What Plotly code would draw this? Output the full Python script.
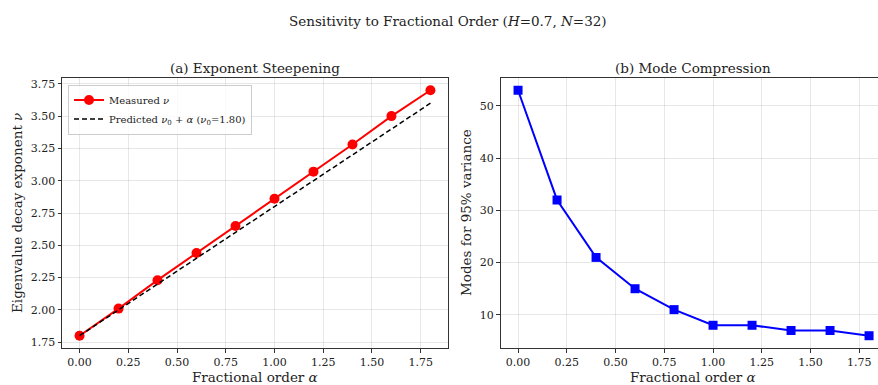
import plotly.graph_objects as go

alpha = [0.0, 0.2, 0.4, 0.6, 0.8, 1.0, 1.2, 1.4, 1.6, 1.8]
nu_measured = [1.80, 2.01, 2.23, 2.44, 2.65, 2.86, 3.07, 3.28, 3.50, 3.70]
nu0 = 1.80
nu_predicted = [nu0 + a for a in alpha]
modes_95 = [53, 32, 21, 15, 11, 8, 8, 7, 7, 6]

x_ticks = [0, 0.25, 0.5, 0.75, 1.0, 1.25, 1.5, 1.75]
y1_ticks = [1.75, 2.0, 2.25, 2.5, 2.75, 3.0, 3.25, 3.5, 3.75]
y2_ticks = [10, 20, 30, 40, 50]

W, H = 878, 385
SERIF = "DejaVu Serif"
TXT = "#222222"

fig = go.Figure()
fig.add_trace(go.Scatter(
    x=alpha, y=nu_measured, mode="lines+markers", name="Measured <i>ν</i>",
    line=dict(color="#ff0000", width=2), marker=dict(color="#ff0000", size=10, symbol="circle"),
    xaxis="x", yaxis="y"))
fig.add_trace(go.Scatter(
    x=alpha, y=nu_predicted, mode="lines",
    name="Predicted <i>ν</i><sub>0</sub> + <i>α</i> (<i>ν</i><sub>0</sub>=1.80)",
    line=dict(color="black", width=1.5, dash="5px,3px"),
    xaxis="x", yaxis="y"))
fig.add_trace(go.Scatter(
    x=alpha, y=modes_95, mode="lines+markers", showlegend=False,
    line=dict(color="#0000ff", width=2), marker=dict(color="#0000ff", size=9, symbol="square"),
    xaxis="x2", yaxis="y2"))

def px(x):
    return x / W

def py(y):
    return 1 - y / H

ydom = [py(348), py(78)]
axis_common = dict(
    showgrid=True, gridcolor="rgba(176,176,176,0.3)", gridwidth=0.8,
    showline=True, linecolor="#333333", linewidth=1,
    ticks="outside", ticklen=3.5, tickcolor="#333333", tickwidth=0.8,
    tickfont=dict(family=SERIF, size=11, color=TXT), zeroline=False,
)

fig.update_layout(
    width=W, height=H, margin=dict(l=0, r=0, t=0, b=0),
    plot_bgcolor="white", paper_bgcolor="white",
    xaxis=dict(domain=[px(62), px(448)], range=[-0.09, 1.89], tickvals=x_ticks,
               tickformat=".2f", anchor="y", mirror=True, **axis_common),
    yaxis=dict(domain=ydom, range=[1.705, 3.795], tickvals=y1_ticks,
               tickformat=".2f", anchor="x", mirror=True, **axis_common),
    xaxis2=dict(domain=[px(500.5), 1.0], range=[-0.09, -0.09 + (878 - 500.5) / 195.0],
                tickvals=x_ticks, tickformat=".2f", anchor="y2", mirror=True, **axis_common),
    yaxis2=dict(domain=ydom, range=[3.65, 55.35], tickvals=y2_ticks,
                anchor="x2", mirror=False, **axis_common),
    showlegend=True,
    legend=dict(x=px(68), y=py(84.5), xanchor="left", yanchor="top",
                bgcolor="rgba(255,255,255,0.8)", bordercolor="#cccccc", borderwidth=1,
                font=dict(family=SERIF, size=10, color=TXT), tracegroupgap=0,
                itemwidth=30),
)

ann = [
    dict(text="Sensitivity to Fractional Order (<i>H</i>=0.7, <i>N</i>=32)",
         x=px(448), y=py(21), size=13.5),
    dict(text="(a) Exponent Steepening", x=px(255), y=py(68), size=13.5),
    dict(text="(b) Mode Compression", x=px(693), y=py(68), size=13.5),
    dict(text="Fractional order <i>α</i>", x=px(255), y=py(377), size=13.5),
    dict(text="Fractional order <i>α</i>", x=px(693), y=py(377), size=13.5),
]
for a in ann:
    fig.add_annotation(text=a["text"], x=a["x"], y=a["y"], xref="paper", yref="paper",
                       showarrow=False, xanchor="center", yanchor="middle",
                       font=dict(family=SERIF, size=a["size"], color=TXT))
fig.add_annotation(text="Eigenvalue decay exponent <i>ν</i>", x=px(17), y=py(213),
                   xref="paper", yref="paper", showarrow=False, textangle=-90,
                   xanchor="center", yanchor="middle",
                   font=dict(family=SERIF, size=13.5, color=TXT))
fig.add_annotation(text="Modes for 95% variance", x=px(466), y=py(213),
                   xref="paper", yref="paper", showarrow=False, textangle=-90,
                   xanchor="center", yanchor="middle",
                   font=dict(family=SERIF, size=13.5, color=TXT))

fig.write_html("out.html")
